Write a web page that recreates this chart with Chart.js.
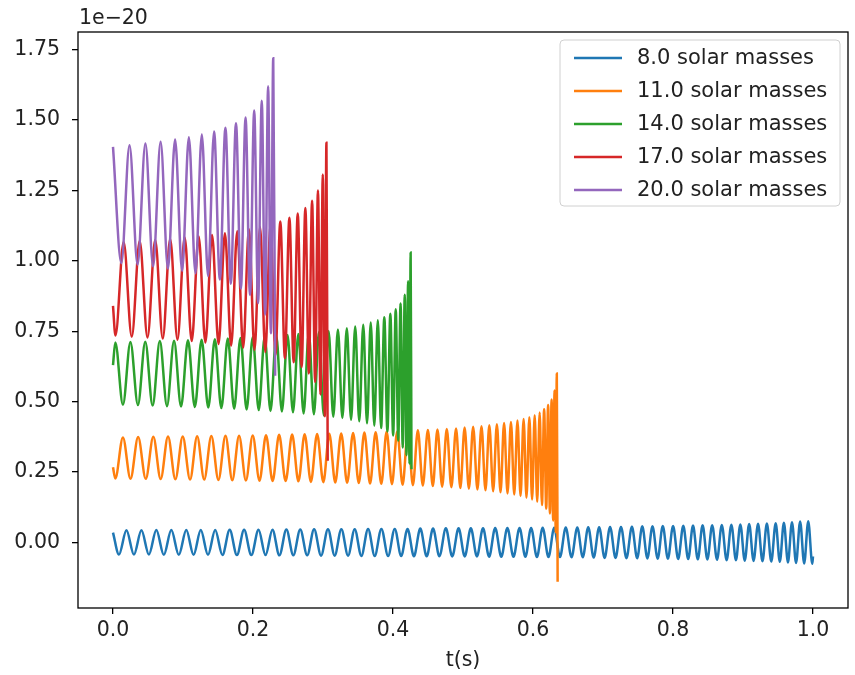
<!DOCTYPE html>
<html>
<head>
<meta charset="utf-8">
<script src="https://cdn.jsdelivr.net/npm/chart.js@4.4.0/dist/chart.umd.min.js"></script>
<style>
  html, body { margin: 0; padding: 0; background: #fff; }
</style>
</head>
<body>
<canvas id="myChart" width="855" height="675"></canvas>
<script>
// tick labels
const xTicks = [0.0, 0.2, 0.4, 0.6, 0.8, 1.0];
const yTicks = [0.0, 0.25, 0.5, 0.75, 1.0, 1.25, 1.5, 1.75];

const seriesLabels = ['8.0 solar masses', '11.0 solar masses', '14.0 solar masses', '17.0 solar masses', '20.0 solar masses'];

// strain (x 1e-20) at the turning points of each waveform
const blueT = [0, 0.0085, 0.0192, 0.0299, 0.0406, 0.0513, 0.0619, 0.0726, 0.0833, 0.0940, 0.1047,
  0.1151, 0.1254, 0.1357, 0.1460, 0.1563, 0.1667, 0.1770, 0.1873, 0.1976, 0.2079,
  0.2179, 0.2278, 0.2377, 0.2477, 0.2576, 0.2675, 0.2774, 0.2873, 0.2972, 0.3071,
  0.3167, 0.3262, 0.3358, 0.3453, 0.3548, 0.3644, 0.3739, 0.3834, 0.3930, 0.4025,
  0.4117, 0.4208, 0.4299, 0.4390, 0.4481, 0.4572, 0.4663, 0.4755, 0.4846, 0.4937,
  0.5025, 0.5112, 0.5199, 0.5286, 0.5373, 0.5460, 0.5547, 0.5634, 0.5721, 0.5808,
  0.5891, 0.5973, 0.6056, 0.6138, 0.6221, 0.6303, 0.6385, 0.6468, 0.6550, 0.6633,
  0.6711, 0.6789, 0.6867, 0.6945, 0.7023, 0.7101, 0.7179, 0.7257, 0.7335, 0.7413,
  0.7488, 0.7561, 0.7634, 0.7707, 0.7781, 0.7854, 0.7927, 0.8001, 0.8074, 0.8147,
  0.8217, 0.8286, 0.8354, 0.8423, 0.8491, 0.8560, 0.8629, 0.8697, 0.8766, 0.8834,
  0.8899, 0.8962, 0.9025, 0.9088, 0.9151, 0.9215, 0.9278, 0.9341, 0.9404, 0.9467,
  0.9526, 0.9584, 0.9642, 0.9700, 0.9758, 0.9816, 0.9874, 0.9932, 0.9990, 1.0];
const blueY = [0.035, -0.043, 0.043, -0.043, 0.043, -0.043, 0.044, -0.044, 0.044, -0.044, 0.044,
  -0.044, 0.044, -0.044, 0.044, -0.045, 0.045, -0.045, 0.045, -0.045, 0.045,
  -0.045, 0.045, -0.046, 0.046, -0.046, 0.046, -0.046, 0.047, -0.047, 0.047,
  -0.047, 0.047, -0.047, 0.047, -0.048, 0.048, -0.048, 0.048, -0.048, 0.048,
  -0.048, 0.048, -0.049, 0.049, -0.049, 0.049, -0.049, 0.050, -0.050, 0.050,
  -0.050, 0.050, -0.050, 0.050, -0.051, 0.051, -0.051, 0.051, -0.051, 0.051,
  -0.051, 0.051, -0.052, 0.052, -0.052, 0.052, -0.052, 0.053, -0.053, 0.053,
  -0.053, 0.054, -0.054, 0.054, -0.055, 0.055, -0.055, 0.055, -0.056, 0.056,
  -0.056, 0.057, -0.057, 0.057, -0.058, 0.058, -0.058, 0.058, -0.059, 0.059,
  -0.059, 0.060, -0.060, 0.061, -0.061, 0.061, -0.062, 0.062, -0.063, 0.063,
  -0.063, 0.064, -0.065, 0.065, -0.066, 0.066, -0.067, 0.067, -0.068, 0.068,
  -0.069, 0.070, -0.071, 0.072, -0.073, 0.074, -0.075, 0.075, -0.076, -0.050];

const orangeT = [0, 0.0033, 0.0142, 0.0250, 0.0359, 0.0468, 0.0576, 0.0681, 0.0786, 0.0891, 0.0996,
  0.1101, 0.1202, 0.1303, 0.1405, 0.1506, 0.1607, 0.1704, 0.1801, 0.1899, 0.1996,
  0.2093, 0.2186, 0.2280, 0.2373, 0.2466, 0.2559, 0.2649, 0.2738, 0.2827, 0.2916,
  0.3005, 0.3090, 0.3175, 0.3260, 0.3345, 0.3430, 0.3511, 0.3591, 0.3672, 0.3752,
  0.3833, 0.3909, 0.3985, 0.4061, 0.4137, 0.4213, 0.4284, 0.4355, 0.4426, 0.4498,
  0.4569, 0.4635, 0.4702, 0.4768, 0.4834, 0.4901, 0.4962, 0.5023, 0.5084, 0.5145,
  0.5206, 0.5264, 0.5321, 0.5376, 0.5431, 0.5484, 0.5536, 0.5587, 0.5636, 0.5685,
  0.5732, 0.5778, 0.5822, 0.5866, 0.5907, 0.5948, 0.5987, 0.6024, 0.6060, 0.6095,
  0.6128, 0.6159, 0.6189, 0.6216, 0.6242, 0.6266, 0.6288, 0.6308, 0.6325, 0.6340, 0.6352];
const orangeY = [0.267, 0.227, 0.373, 0.226, 0.374, 0.226, 0.375, 0.225, 0.376, 0.224, 0.376,
  0.223, 0.377, 0.223, 0.378, 0.222, 0.379, 0.221, 0.379, 0.220, 0.380,
  0.219, 0.381, 0.218, 0.382, 0.218, 0.383, 0.217, 0.384, 0.215, 0.385,
  0.214, 0.386, 0.213, 0.387, 0.212, 0.389, 0.211, 0.390, 0.209, 0.391,
  0.208, 0.393, 0.207, 0.394, 0.205, 0.396, 0.203, 0.398, 0.202, 0.399,
  0.200, 0.401, 0.198, 0.403, 0.196, 0.405, 0.193, 0.408, 0.191, 0.411,
  0.188, 0.413, 0.185, 0.416, 0.182, 0.420, 0.178, 0.424, 0.174, 0.428,
  0.170, 0.433, 0.165, 0.438, 0.159, 0.445, 0.152, 0.452, 0.144, 0.461,
  0.133, 0.473, 0.120, 0.488, 0.103, 0.508, 0.078, 0.540, 0.036, 0.600, -0.140];

const greenT = [0, 0.0033, 0.0142, 0.0249, 0.0356, 0.0461, 0.0566, 0.0669, 0.0771, 0.0872, 0.0972,
  0.1071, 0.1169, 0.1266, 0.1361, 0.1455, 0.1548, 0.1640, 0.1731, 0.1821, 0.1909,
  0.1996, 0.2082, 0.2167, 0.2250, 0.2332, 0.2413, 0.2493, 0.2571, 0.2648, 0.2723,
  0.2797, 0.2870, 0.2942, 0.3012, 0.3080, 0.3147, 0.3213, 0.3277, 0.3340, 0.3401,
  0.3460, 0.3518, 0.3575, 0.3629, 0.3682, 0.3733, 0.3783, 0.3830, 0.3876, 0.3920,
  0.3962, 0.4002, 0.4039, 0.4075, 0.4108, 0.4139, 0.4168, 0.4193, 0.4216, 0.4236,
  0.4252, 0.4264];
const greenY = [0.630, 0.710, 0.489, 0.712, 0.488, 0.713, 0.486, 0.715, 0.484, 0.716, 0.483,
  0.718, 0.481, 0.720, 0.479, 0.722, 0.477, 0.724, 0.475, 0.726, 0.472,
  0.729, 0.470, 0.731, 0.467, 0.734, 0.465, 0.737, 0.462, 0.740, 0.458,
  0.744, 0.455, 0.747, 0.451, 0.751, 0.446, 0.756, 0.442, 0.761, 0.436,
  0.767, 0.430, 0.773, 0.423, 0.781, 0.415, 0.789, 0.406, 0.800, 0.394,
  0.812, 0.380, 0.828, 0.362, 0.849, 0.337, 0.880, 0.310, 0.928, 0.280,
  1.030, 0.260];

const redT = [0, 0.0035, 0.0152, 0.0268, 0.0381, 0.0493, 0.0603, 0.0711, 0.0817, 0.0921, 0.1024,
  0.1125, 0.1224, 0.1320, 0.1415, 0.1508, 0.1599, 0.1688, 0.1775, 0.1860, 0.1942,
  0.2022, 0.2101, 0.2176, 0.2250, 0.2321, 0.2390, 0.2456, 0.2520, 0.2581, 0.2639,
  0.2695, 0.2748, 0.2798, 0.2844, 0.2888, 0.2928, 0.2964, 0.2997, 0.3025, 0.3049, 0.3067];
const redY = [0.840, 0.735, 1.067, 0.731, 1.071, 0.728, 1.074, 0.724, 1.078, 0.720, 1.083,
  0.715, 1.087, 0.710, 1.092, 0.705, 1.098, 0.699, 1.105, 0.692, 1.112,
  0.684, 1.120, 0.676, 1.129, 0.666, 1.140, 0.654, 1.153, 0.640, 1.168,
  0.623, 1.188, 0.600, 1.214, 0.570, 1.250, 0.525, 1.307, 0.448, 1.420, 0.290];

const purpleT = [0, 0.0119, 0.0236, 0.0351, 0.0463, 0.0573, 0.0680, 0.0785, 0.0887, 0.0987,
  0.1084, 0.1178, 0.1269, 0.1358, 0.1444, 0.1527, 0.1606, 0.1683, 0.1757, 0.1827,
  0.1894, 0.1957, 0.2017, 0.2073, 0.2125, 0.2173, 0.2216, 0.2255, 0.2289, 0.2316];
const purpleY = [1.405, 0.992, 1.411, 0.987, 1.417, 0.980, 1.423, 0.973, 1.431, 0.965,
  1.439, 0.956, 1.449, 0.946, 1.460, 0.934, 1.473, 0.919, 1.489, 0.902,
  1.509, 0.879, 1.534, 0.850, 1.569, 0.809, 1.620, 0.743, 1.720, 0.592];

const seriesT = [blueT, orangeT, greenT, redT, purpleT];
const seriesY = [blueY, orangeY, greenY, redY, purpleY];
const seriesColors = ['#1f77b4', '#ff7f0e', '#2ca02c', '#d62728', '#9467bd'];

const FONT = '"DejaVu Sans", sans-serif';
const TEXT = '#222';
Chart.defaults.font.family = FONT;

// frame on all four sides, the 1e-20 offset text and a matplotlib style legend
const decorPlugin = {
  id: 'decor',
  afterDraw(chart) {
    const { ctx, chartArea: a } = chart;
    ctx.save();
    ctx.strokeStyle = '#000';
    ctx.lineWidth = 1.3;
    ctx.strokeRect(a.left, a.top, a.right - a.left, a.bottom - a.top);

    ctx.fillStyle = TEXT;
    ctx.font = '20.5px ' + FONT;
    ctx.textAlign = 'left';
    ctx.textBaseline = 'alphabetic';
    ctx.fillText('1e\u221220', a.left + 1, 24);

    const boxW = 280, boxH = 166;
    const bx = a.right - 8 - boxW, by = a.top + 8;
    ctx.beginPath();
    ctx.roundRect(bx, by, boxW, boxH, 4);
    ctx.fillStyle = 'rgba(255,255,255,0.8)';
    ctx.fill();
    ctx.strokeStyle = '#d0d0d0';
    ctx.lineWidth = 1;
    ctx.stroke();

    ctx.font = '21px ' + FONT;
    ctx.textBaseline = 'middle';
    seriesLabels.forEach((label, i) => {
      const y = by + 18 + i * 33;
      ctx.strokeStyle = seriesColors[i];
      ctx.lineWidth = 2.5;
      ctx.beginPath();
      ctx.moveTo(bx + 14, y);
      ctx.lineTo(bx + 62, y);
      ctx.stroke();
      ctx.fillStyle = TEXT;
      ctx.fillText(label, bx + 77, y + 1);
    });
    ctx.restore();
  },
};

const ctx = document.getElementById('myChart').getContext('2d');
new Chart(ctx, {
  type: 'line',
  data: {
    datasets: seriesLabels.map((label, i) => ({
      label,
      data: seriesT[i].map((t, k) => ({ x: t, y: seriesY[i][k] })),
      borderColor: seriesColors[i],
      backgroundColor: seriesColors[i],
      borderWidth: 2.5,
      pointRadius: 0,
      fill: false,
      cubicInterpolationMode: 'monotone',
      order: seriesLabels.length - 1 - i,
    })),
  },
  options: {
    responsive: false,
    devicePixelRatio: 1,
    animation: false,
    layout: { padding: { left: 0, right: 7, top: 32, bottom: 0 } },
    plugins: {
      legend: { display: false },
      tooltip: { enabled: false },
    },
    scales: {
      x: {
        type: 'linear',
        min: -0.05,
        max: 1.05,
        afterBuildTicks: (axis) => { axis.ticks = xTicks.map((v) => ({ value: v })); },
        afterFit: (axis) => { axis.height = 67; },
        border: { display: false },
        grid: { drawOnChartArea: false, drawTicks: true, tickLength: 6, color: '#000', lineWidth: 1.3 },
        ticks: {
          color: TEXT,
          font: { size: 20.5 },
          padding: 4,
          maxRotation: 0,
          callback: (v) => Number(v).toFixed(1),
        },
        title: { display: true, text: 't(s)', color: TEXT, font: { size: 20.5 }, padding: { top: 0, bottom: 2 } },
      },
      y: {
        type: 'linear',
        min: -0.233,
        max: 1.813,
        afterBuildTicks: (axis) => { axis.ticks = yTicks.map((v) => ({ value: v })); },
        afterFit: (axis) => { axis.width = 78; },
        border: { display: false },
        grid: { drawOnChartArea: false, drawTicks: true, tickLength: 6, color: '#000', lineWidth: 1.3 },
        ticks: {
          color: TEXT,
          font: { size: 20.5 },
          padding: 12,
          callback: (v) => Number(v).toFixed(2),
        },
      },
    },
  },
  plugins: [decorPlugin],
});
</script>
</body>
</html>
